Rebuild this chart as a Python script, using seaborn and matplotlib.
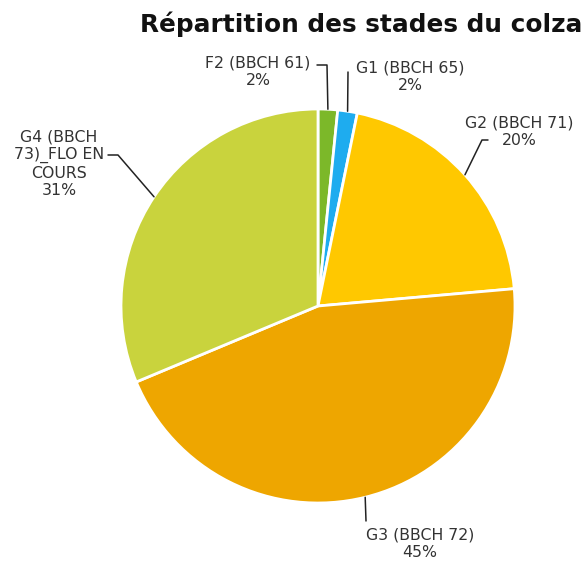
import numpy as np
import matplotlib
matplotlib.use("Agg")
import matplotlib.pyplot as plt
import seaborn as sns

# ---- data ----
categories = ["F2 (BBCH 61)", "G1 (BBCH 65)", "G2 (BBCH 71)", "G3 (BBCH 72)", "G4 (BBCH\n73)_FLO EN\nCOURS"]
values = [1.6, 1.6, 20.4, 45.1, 31.3]
colors = ["#7cb829", "#1eacef", "#ffc800", "#eea600", "#c9d33d"]
title = "Répartition des stades du colza"

# ---- layout (pixel coordinates, y measured from bottom) ----
W, H = 584, 562
cx, cy, R = 318, H - 306, 197
label_pos = [(258, H - 72), (410, H - 77), (519, H - 132), (420, H - 544), (59, H - 164)]
attach = [[(317, H - 65), (327, H - 65)],
          [(348, H - 72), (348, H - 72)],
          [(488, H - 140), (482, H - 140)],
          [(366, H - 521), (366, H - 521)],
          [(108, H - 155), (118, H - 155)]]

sns.set_style("white")
plt.rcParams["font.family"] = ["DejaVu Sans"]

fig = plt.figure(figsize=(W / 100, H / 100), dpi=100)
ax = fig.add_axes([0, 0, 1, 1])
wedges, _ = ax.pie(values, colors=colors, startangle=90, counterclock=False,
                   center=(cx, cy), radius=R,
                   wedgeprops=dict(edgecolor="white", linewidth=2))
ax.set_xlim(0, W)
ax.set_ylim(0, H)
ax.set_aspect("auto")
ax.axis("off")

total = sum(values)
for i, w in enumerate(wedges):
    ang = np.deg2rad((w.theta1 + w.theta2) / 2)
    ex, ey = cx + R * np.cos(ang), cy + R * np.sin(ang)
    pts = attach[i] + [(ex, ey)]
    ax.plot([p[0] for p in pts], [p[1] for p in pts], color="#222222", lw=1.1)
    pct = round(values[i] / total * 100)
    ax.text(label_pos[i][0], label_pos[i][1], f"{categories[i]}\n{pct}%",
            ha="center", va="center", fontsize=11.3, color="#333333",
            linespacing=1.2)

ax.text(361, H - 24, title, ha="center", va="center", fontsize=17.8,
        fontweight="bold", color="#111111")

fig.savefig("out.png", dpi=100)
